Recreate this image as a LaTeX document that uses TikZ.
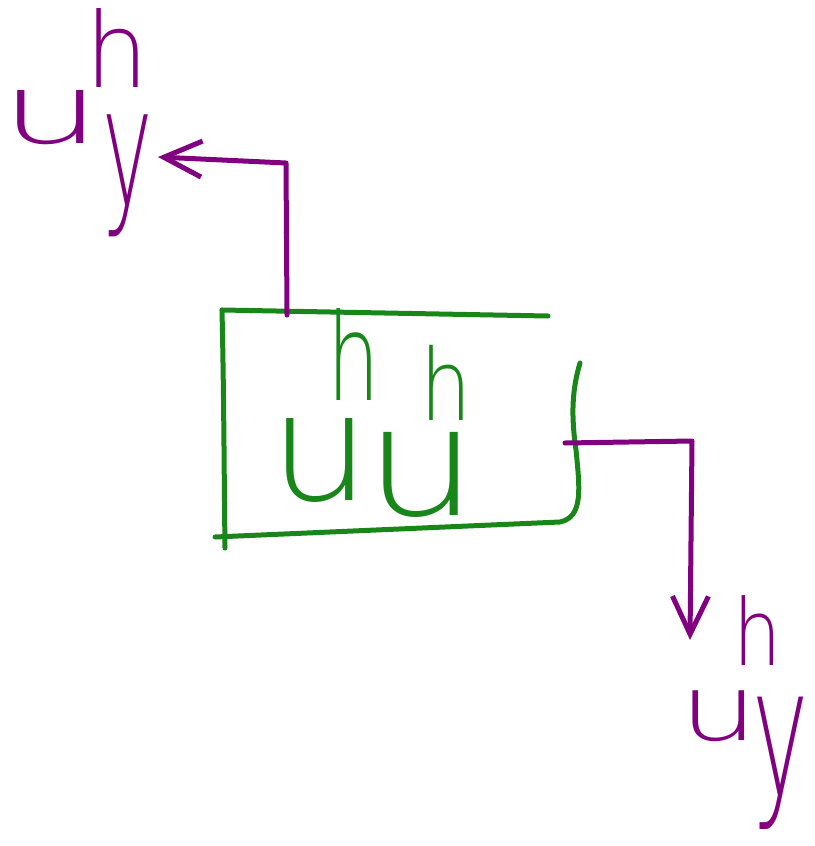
\documentclass[tikz,border=0pt]{standalone}
\usepackage{graphicx}
\usepackage{fontspec}
\newfontfamily\thinfont{DejaVuSans-ExtraLight}[Extension=.ttf]
\usetikzlibrary{arrows.meta}
\definecolor{inkgreen}{RGB}{24,134,24}
\definecolor{inkpurple}{RGB}{128,0,128}
\tikzset{
  stroke/.style={line width=5pt, line cap=round, line join=round},
  boxline/.style={stroke, draw=inkgreen},
  wire/.style={stroke, draw=inkpurple, -{Straight Barb[length=38pt, width=36pt, line width=5pt]}},
  inklabel/.style={inner sep=0pt, anchor=base west, font=\thinfont},
}
% one hand-sized letter: \glyph{xscale}{yscale}{raise}{letter}
\newcommand{\glyph}[4]{\raisebox{#3}{\scalebox{#1}[#2]{#4}}}
\begin{document}
\begin{tikzpicture}[x=1pt, y=-1pt]
  \path[use as bounding box] (0,0) rectangle (814,846);

  % hand-drawn block
  \draw[boxline] (222,310) -- (548,316);
  \draw[boxline] (222,310) .. controls (224,400) and (224,470) .. (225,548);
  \draw[boxline] (215,537) -- (560,522)
    .. controls (583,517) and (580,490) .. (576,450)
    .. controls (571,415) and (572,390) .. (580,363);

  % block label u^h u^h
  \node[inklabel, text=inkgreen] (blk) at (269.4,500)
    {\glyph{16}{15}{0pt}{u}\kern-43.4pt\glyph{8.3}{12.1}{100pt}{h}%
     \kern-15.3pt\glyph{18}{15.2}{-15pt}{u}\kern-58.2pt\glyph{8.1}{9.9}{80pt}{h}};

  % port coordinates on the block
  \coordinate (topport) at (287,315);
  \coordinate (topbend) at (286,163);
  \coordinate (rightport) at (565,443);
  \coordinate (rightbend) at (692,441);

  % outputs u y^h
  \node[inklabel, text=inkpurple] (outA) at (0,143)
    {\glyph{16}{9.7}{0pt}{u}\kern1.1pt\glyph{8.5}{16.6}{-62.7pt}{y}%
     \kern-67.8pt\glyph{10}{10.4}{56pt}{h}};
  \node[inklabel, text=inkpurple] (outB) at (679.4,740)
    {\glyph{12.5}{9.1}{0pt}{u}\kern-6.7pt\glyph{9.5}{18}{-55.5pt}{y}%
     \kern-75.1pt\glyph{7.6}{9.2}{75pt}{h}};

  \coordinate (tipA) at (158,157);
  \coordinate (tipB) at (690,640);

  \draw[wire] (topport) -- (topbend) -- (tipA);
  \draw[wire] (rightport) -- (rightbend) -- (tipB);
\end{tikzpicture}
\end{document}
